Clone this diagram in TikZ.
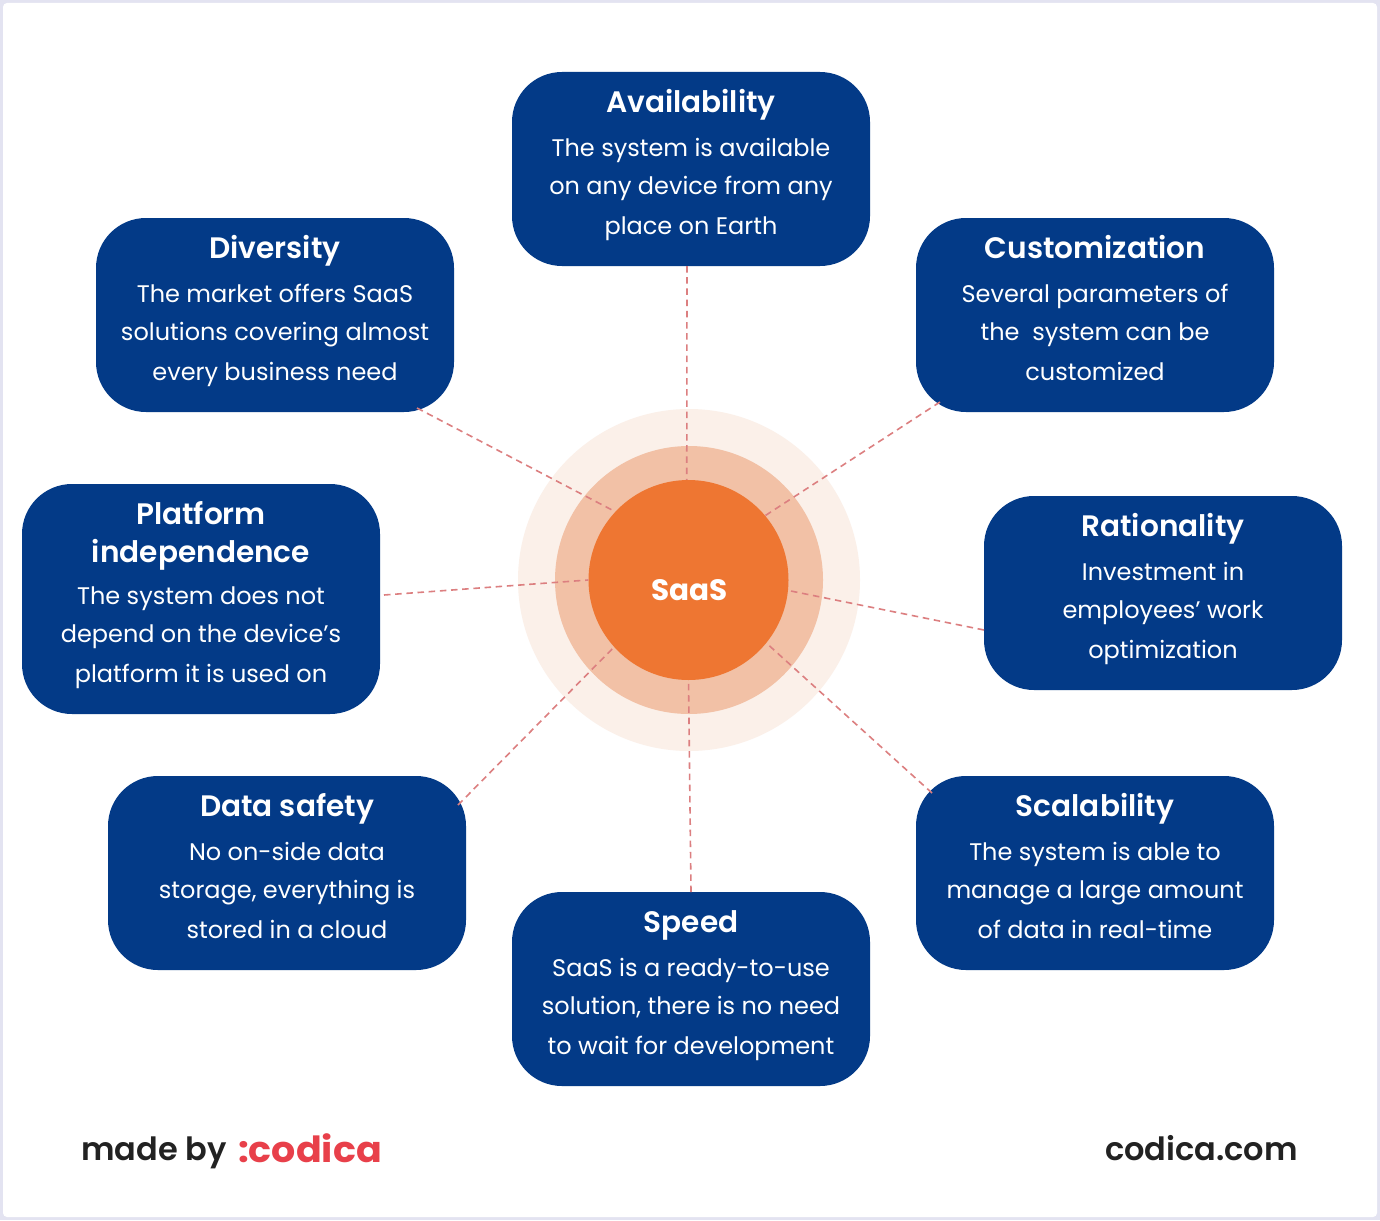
\documentclass[tikz,border=0pt]{standalone}
\usepackage{fontspec}
\setmainfont{Poppins}
\newfontfamily\headfont{Poppins SemiBold}
\newfontfamily\logofont[FakeStretch=1.055]{Poppins}
\usetikzlibrary{calc}
\definecolor{bgedge}{HTML}{E3E3F1}
\definecolor{boxblue}{HTML}{033A87}
\definecolor{ringa}{HTML}{FBF0E9}
\definecolor{ringb}{HTML}{F2C1A6}
\definecolor{core}{HTML}{EE7632}
\definecolor{linkred}{HTML}{DC7F80}
\definecolor{logored}{HTML}{E8404A}
\definecolor{ink}{HTML}{222222}
\tikzset{
  x=1pt,y=-1pt,
  infobox/.style={fill=boxblue,draw=none,rounded corners=50pt,minimum width=358pt,minimum height=194pt,inner sep=0pt,text=white},
  boxtall/.style={infobox,minimum height=230pt},
  titletext/.style={font=\fontsize{29.6}{38}\selectfont\headfont,text=white,align=center,inner sep=0pt},
  bodytext/.style={font=\fontsize{24}{38.2}\selectfont,text=white,align=center,inner sep=0pt},
  link/.style={draw=linkred,line width=1.6pt,dash pattern=on 6.5pt off 4.7pt},
  ring/.style={circle,draw=none,inner sep=0pt},
}
% #1 style, #2 name, #3 centre, #4 body offset from box top, #5 title, #6 body
\newcommand{\card}[6][infobox]{%
  \node[#1] (#2) at (#3) {};
  \node[titletext,anchor=north] (#2t) at ($(#2.north)+(0,16.4)$) {\rule{0pt}{24pt}#5};
  \node[bodytext,anchor=north] (#2b) at ($(#2.north)+(0,#4)$) {\rule{0pt}{20pt}#6};
}
\begin{document}
\begin{tikzpicture}
\useasboundingbox (0,0) rectangle (1380,1220);
\fill[bgedge] (0,0) rectangle (1380,1220);
\fill[white,rounded corners=4pt] (3,3) rectangle (1377,1217);
\node[ring,fill=ringa,minimum size=342pt] (outer) at (689,580) {};
\node[ring,fill=ringb,minimum size=268pt] (mid) at (689,580) {};

\card{avail}{691,169}{64}{Availability}{The system is available\\on any device from any\\[2.5pt]place on Earth}
\card{div}{275,315}{64}{Diversity}{The market offers SaaS\\solutions covering almost\\[2.5pt]every business need}
\card{cust}{1095,315}{64}{Customization}{Several parameters of\\the\ \ system can be\\[2.5pt]customized}
\card[boxtall]{plat}{201,599}{100}{Platform\\independence}{The system does not\\depend on the device’s\\[2.5pt]platform it is used on}
\card{rat}{1163,593}{64}{Rationality}{Investment in\\employees’ work\\[2.5pt]optimization}
\card{data}{287,873}{64}{Data safety}{No on-side data\\storage, everything is\\[2.5pt]stored in a cloud}
\card{scal}{1095,873}{64}{Scalability}{The system is able to\\manage a large amount\\[2.5pt]of data in real-time}
\card{speed}{691,989}{64}{Speed}{SaaS is a ready-to-use\\solution, there is no need\\[2.5pt]to wait for development}

\node[ring,fill=core,minimum size=200pt] (saas) at (688.5,580) {};
\node[font=\fontsize{29.5}{34}\selectfont\bfseries,text=white,inner sep=0pt] (saaslabel) at (689.5,590) {SaaS};

\draw[link] ($(avail.center)+(-4,97)$) -- (saas.91);
\draw[link] ($(div.center)+(142,93)$) -- (saas.137);
\draw[link] ($(cust.center)+(-155,87)$) -- (saas.40);
\draw[link] ($(plat.center)+(183,-4)$) -- (saas.180);
\draw[link] ($(rat.center)+(-179,37)$) -- (saas.-6);
\draw[link] ($(data.center)+(171,-68)$) -- (saas.222);
\draw[link] ($(scal.center)+(-163,-80)$) -- (saas.-39);
\draw[link] ($(speed.center)+(0,-97)$) -- (saas.270);

\node[font=\fontsize{32}{36}\selectfont\headfont,text=ink,anchor=base west,inner sep=0pt] (madeby) at (81,1160.5) {made by};
\node[font=\fontsize{36}{38}\selectfont\logofont\bfseries,text=logored,anchor=base west,inner sep=0pt] (logo) at (238,1162) {:codica};
\node[font=\fontsize{32}{36}\selectfont\headfont,text=ink,anchor=base east,inner sep=0pt] (site) at (1298,1160) {codica.com};
\end{tikzpicture}
\end{document}
